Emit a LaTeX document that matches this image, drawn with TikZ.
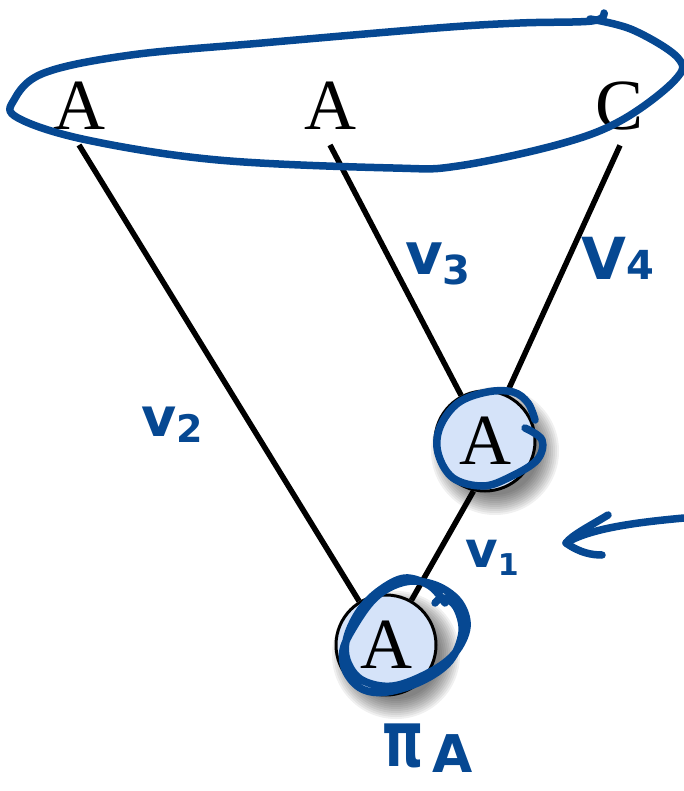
\documentclass[tikz,border=0pt]{standalone}
\usepackage{fontspec}
\setmainfont{Liberation Serif}
\newfontfamily\annot{DejaVu Sans}
\definecolor{pen}{RGB}{6,72,146}
\definecolor{nodefill}{RGB}{213,227,249}
\begin{document}
\begin{tikzpicture}[x=1pt,y=-1pt,
  leaf/.style={font=\fontsize{72}{72}\selectfont, inner xsep=2pt, inner ysep=15pt},
  inner/.style={circle, draw=black, line width=3pt, fill=nodefill, minimum size=100pt, inner sep=0pt, font=\fontsize{72}{72}\selectfont},
  edge/.style={line width=5.5pt},
  ink/.style={draw=pen, line width=7.5pt, line cap=round, line join=round},
  hand/.style={text=pen, font=\annot\bfseries, inner sep=0pt}]
\useasboundingbox (0,0) rectangle (684,791);
% node positions
\coordinate (c1) at (485,441);
\coordinate (c0) at (386,645);
% soft shadows
\foreach \c in {c1,c0}{
  \foreach \k in {0,...,10}{
    \fill[black, opacity=0.06] ([shift={(10,10)}]\c) circle (44+2*\k);
  }
}
% leaves
\node[leaf] (a1) at (79,106) {A};
\node[leaf] (a2) at (330,106) {A};
\node[leaf] (c)  at (620,106) {C};
% internal nodes
\node[inner] (n1) at (c1) {A};
\node[inner] (n0) at (c0) {A};
% edges
\draw[edge] (a1.south) -- (n0);
\draw[edge] (a2.south) -- (n1);
\draw[edge] (c.south) -- (n1);
\draw[edge] (n1.-103) -- (n0);
% handwritten ellipse around leaves
\draw[ink] plot[smooth, tension=0.6] coordinates {(604,13) (592,21) (520,23) (437,28) (262,43) (131,55) (44,73) (14,100) (18,118) (87,140) (218,160) (393,168) (458,166) (560,144) (622,120) (675,80) (678,58) (633,30) (590,19)};
% scribble round upper node
\draw[ink] plot[smooth, tension=0.6] coordinates {(525,428) (542,440) (537,460) (510,477) (483,486) (453,478) (438,453) (440,427) (458,403) (487,392) (513,392) (528,403) (535,420)};
% scribbles round lower node
\draw[ink] plot[smooth, tension=0.6] coordinates {(445,603) (430,586) (405,578) (380,590) (360,610) (347,637) (347,660) (362,680) (393,686) (430,672) (455,653) (467,627) (460,603) (440,587) (415,581) (393,586) (373,600) (355,625) (343,650) (346,672) (362,689) (387,692) (422,681) (450,661) (462,632) (456,607) (443,598) (435,603)};
% arrow pointing at the edge v1
\coordinate (tailv) at (684,518);
\coordinate (tipv) at (566,543);
\draw[ink] (tailv) .. controls (640,522) and (590,528) .. (tipv);
\draw[ink] (608,515) .. controls (590,526) and (572,535) .. (tipv) .. controls (580,553) and (592,555) .. (602,555);
% labels
\node[hand] (v3) at (438,264) {\fontsize{58}{58}\selectfont v\raisebox{-10pt}{\fontsize{40}{40}\selectfont 3}};
\node[hand] (v4) at (618,258) {\fontsize{58}{58}\selectfont V\fontsize{40}{40}\selectfont 4};
\node[hand] (v2) at (172,425) {\fontsize{54}{54}\selectfont v\raisebox{-6pt}{\fontsize{38}{38}\selectfont 2}};
\node[hand] (v1) at (492,558) {\fontsize{50}{50}\selectfont v\raisebox{-8pt}{\fontsize{30}{30}\selectfont 1}};
\node[hand] (pia) at (428,748) {\fontsize{52}{52}\selectfont \scalebox{1}[1.5]{π}\,\raisebox{-6pt}{A}};
\end{tikzpicture}
\end{document}
